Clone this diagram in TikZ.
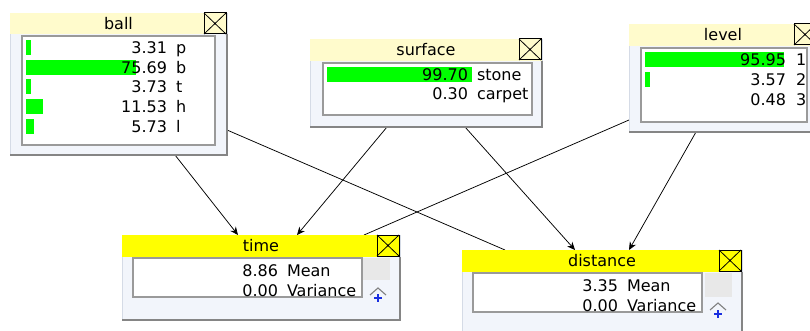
\documentclass[tikz,border=0pt]{standalone}
\usepackage{fontspec}
\setmainfont{DejaVu Sans}
\usetikzlibrary{arrows.meta,backgrounds}
\definecolor{titlelight}{HTML}{FFFBCC}
\definecolor{titleyellow}{HTML}{FFFF00}
\definecolor{panelfill}{HTML}{F2F5FB}
\definecolor{paneledge}{HTML}{D5DBE6}
\definecolor{shadowgray}{HTML}{858585}
\definecolor{innergray}{HTML}{9A9A9A}
\definecolor{bargreen}{HTML}{00FF00}
\definecolor{sqgray}{HTML}{E8E8E8}
\definecolor{plusblue}{HTML}{1A2FE0}
\begin{document}
\begin{tikzpicture}[x=1pt,y=-1pt,
  every node/.style={font=\fontsize{16}{18}\selectfont, inner sep=0pt, outer sep=0pt},
  panel/.style={fill=panelfill, draw=paneledge, line width=0.8pt, anchor=north west, rectangle},
  shade/.style={draw=shadowgray, line width=2pt},
  titlelt/.style={fill=titlelight, anchor=north west, minimum height=22pt},
  titleyl/.style={fill=titleyellow, anchor=north west, minimum height=22pt},
  closebox/.style={draw=black, line width=1pt, anchor=north east, minimum width=22pt, minimum height=21pt},
  xline/.style={draw=black, line width=0.8pt},
  innerbox/.style={fill=white, draw=innergray, line width=1.1pt, anchor=north west},
  bar/.style={fill=bargreen},
  num/.style={anchor=base east},
  lab/.style={anchor=base west},
  graysq/.style={fill=sqgray},
  chev/.style={draw=gray, line width=1.1pt},
  plus/.style={draw=plusblue, line width=1.5pt},
  link/.style={draw=black, line width=0.75pt},
  arr/.style={-{Stealth[length=8pt,width=7pt]}},
]
\useasboundingbox (0,0) rectangle (810,331);
\clip (0,0) rectangle (810,331);

% ---------------- ball ----------------
\node[panel, minimum width=217pt, minimum height=142pt] (ball) at (10,13) {};
\draw[shade] ([yshift=-21pt]ball.north east) -- (ball.south east) -- (ball.south west);
\node[titlelt, minimum width=217pt, minimum height=21pt] (balltitle) at (ball.north west) {ball};
\node[closebox] (ballclose) at ([xshift=-1pt]balltitle.north east) {};
\draw[xline] (ballclose.north west) -- (ballclose.south east) (ballclose.north east) -- (ballclose.south west);
\node[innerbox, minimum width=193pt, minimum height=109pt] (ballbox) at (22,36) {};
\fill[bar] (26,40) rectangle ++(4.8,15);
\fill[bar] (26,60) rectangle ++(109.8,15);
\fill[bar] (26,79.5) rectangle ++(5.4,15);
\fill[bar] (26,99.5) rectangle ++(16.7,15);
\fill[bar] (26,119) rectangle ++(8.3,15);
\node[num] (ballv1) at (167,53.5) {3.31};  \node[lab] (balls1) at (176,53.5) {p};
\node[num] (ballv2) at (167,73.5) {75.69}; \node[lab] (balls2) at (176,73.5) {b};
\node[num] (ballv3) at (167,93) {3.73};    \node[lab] (balls3) at (176,93) {t};
\node[num] (ballv4) at (167,113) {11.53};  \node[lab] (balls4) at (176,113) {h};
\node[num] (ballv5) at (167,132.5) {5.73}; \node[lab] (balls5) at (176,132.5) {l};

% ---------------- surface ----------------
\node[panel, minimum width=232pt, minimum height=88pt] (surface) at (310,39) {};
\draw[shade] ([yshift=-22pt]surface.north east) -- (surface.south east) -- (surface.south west);
\node[titlelt, minimum width=232pt] (surftitle) at (surface.north west) {surface};
\node[closebox] (surfclose) at ([xshift=-1pt]surftitle.north east) {};
\draw[xline] (surfclose.north west) -- (surfclose.south east) (surfclose.north east) -- (surfclose.south west);
\node[innerbox, minimum width=209pt, minimum height=52pt] (surfbox) at (323,63) {};
\fill[bar] (327,67) rectangle ++(144.6,15);
\node[num] (surfv1) at (468,80.5) {99.70}; \node[lab] (surfs1) at (477,80.5) {stone};
\node[num] (surfv2) at (468,100) {0.30};   \node[lab] (surfs2) at (477,100) {carpet};

% ---------------- level ----------------
\node[panel, minimum width=188pt, minimum height=108pt] (level) at (629,24) {};
\draw[shade] ([yshift=-22pt]level.north east) -- (level.south east) -- (level.south west);
\node[titlelt, minimum width=188pt] (leveltitle) at (level.north west) {level};
\node[closebox] (levelclose) at ([xshift=-1pt]leveltitle.north east) {};
\draw[xline] (levelclose.north west) -- (levelclose.south east) (levelclose.north east) -- (levelclose.south west);
\node[innerbox, minimum width=166pt, minimum height=74pt] (levelbox) at (641,48) {};
\fill[bar] (645,52) rectangle ++(139.1,15);
\fill[bar] (645,72) rectangle ++(5.2,15);
\node[num] (levelv1) at (786,65.5) {95.95}; \node[lab] (levels1) at (796,65.5) {1};
\node[num] (levelv2) at (786,85.5) {3.57};  \node[lab] (levels2) at (796,85.5) {2};
\node[num] (levelv3) at (786,105.5) {0.48}; \node[lab] (levels3) at (796,105.5) {3};

% ---------------- time ----------------
\node[panel, minimum width=278pt, minimum height=85pt] (time) at (122,235) {};
\draw[shade] ([yshift=-22pt]time.north east) -- (time.south east) -- (time.south west);
\node[titleyl, minimum width=278pt] (timetitle) at (time.north west) {time};
\node[closebox] (timeclose) at ([xshift=-1pt]timetitle.north east) {};
\draw[xline] (timeclose.north west) -- (timeclose.south east) (timeclose.north east) -- (timeclose.south west);
\node[innerbox, minimum width=229pt, minimum height=39pt] (timebox) at (133,258) {};
\fill[graysq] (363,258) rectangle (390,280);
\draw[chev] (370,295) -- (378,288) -- (386,295);
\draw[plus] (374,298) -- (382,298) (378,294) -- (378,302);
\node[num] (timev1) at (278,276) {8.86}; \node[lab] (times1) at (287,276) {Mean};
\node[num] (timev2) at (278,296) {0.00}; \node[lab] (times2) at (287,296) {Variance};

% ---------------- distance ----------------
\node[panel, minimum width=280pt, minimum height=100pt] (distance) at (462,250) {};
\draw[shade] ([yshift=-22pt]distance.north east) -- (distance.south east) -- (distance.south west);
\node[titleyl, minimum width=280pt] (disttitle) at (distance.north west) {distance};
\node[closebox] (distclose) at ([xshift=-1pt]disttitle.north east) {};
\draw[xline] (distclose.north west) -- (distclose.south east) (distclose.north east) -- (distclose.south west);
\node[innerbox, minimum width=229pt, minimum height=39pt] (distbox) at (473,273) {};
\fill[graysq] (705,273) rectangle (732,297);
\draw[chev] (710,310) -- (718,303) -- (726,310);
\draw[plus] (714,314) -- (722,314) (718,310) -- (718,318);
\node[num] (distv1) at (618,291) {3.35}; \node[lab] (dists1) at (627,291) {Mean};
\node[num] (distv2) at (618,311) {0.00}; \node[lab] (dists2) at (627,311) {Variance};

% ---------------- connectors ----------------
\begin{scope}[on background layer]
\fill[white] (0,0) rectangle (810,331);
\draw[link,arr] ([xshift=165pt]ball.south west) -- ([xshift=116pt]time.north west);
\draw[link] ([yshift=-117pt]ball.north east) -- ([xshift=43pt]distance.north west);
\draw[link,arr] ([xshift=77pt]surface.south west) -- ([xshift=175pt]time.north west);
\draw[link,arr] ([xshift=155pt]surface.south west) -- ([xshift=113pt]distance.north west);
\draw[link] ([yshift=-96pt]level.north west) -- ([xshift=242pt]time.north west);
\draw[link,arr] ([xshift=67pt]level.south west) -- ([xshift=167pt]distance.north west);
\end{scope}
\end{tikzpicture}
\end{document}
